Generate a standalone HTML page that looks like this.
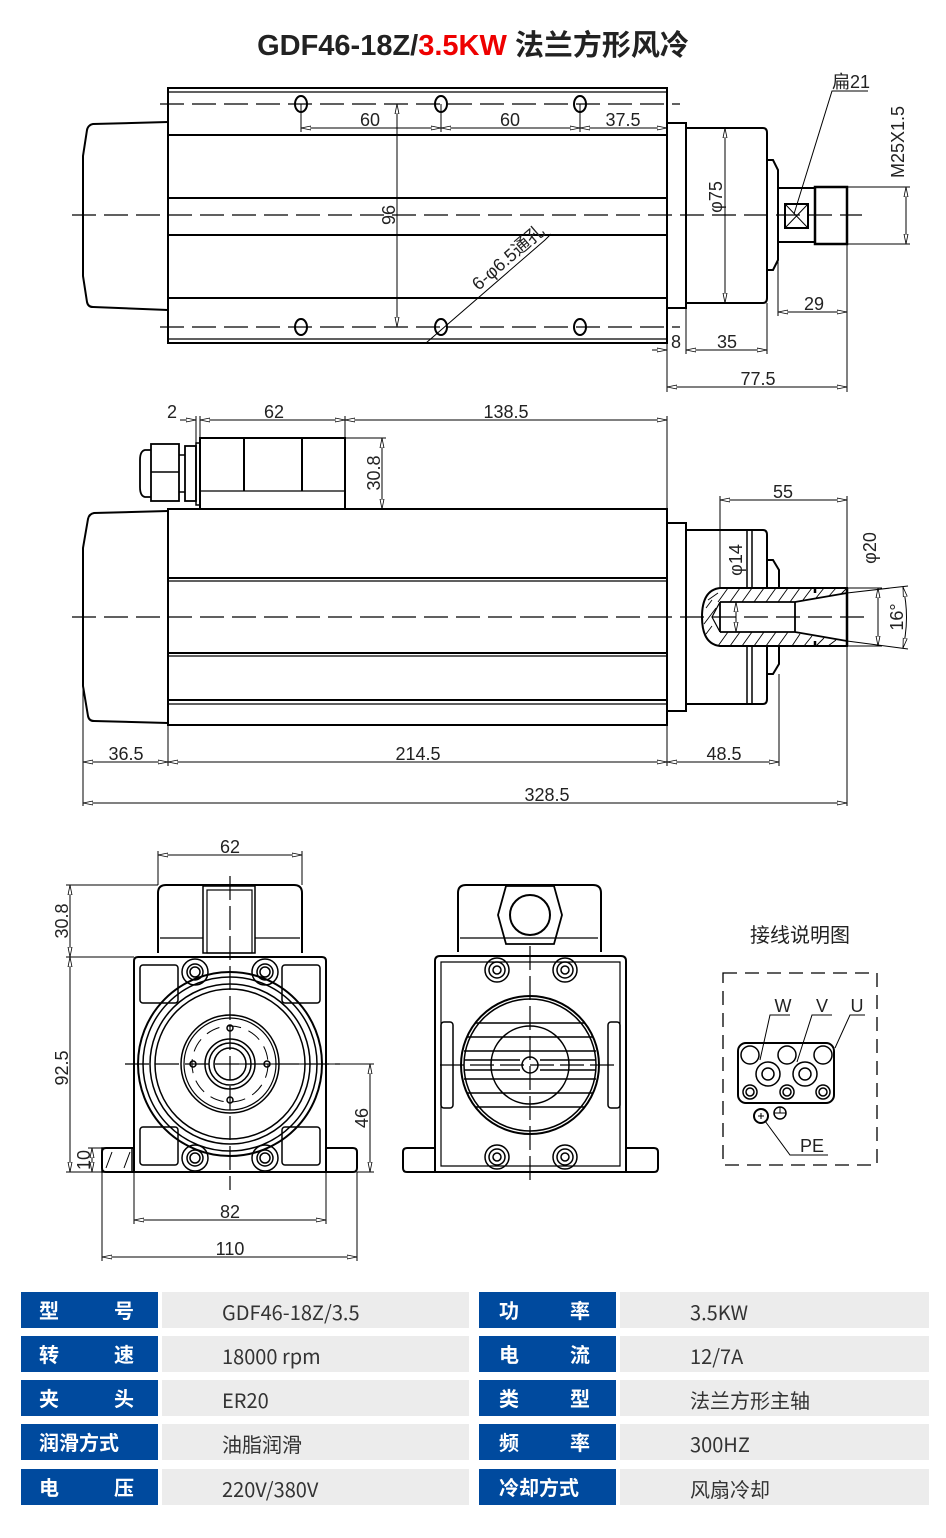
<!DOCTYPE html>
<html><head><meta charset="utf-8"><style>
body{margin:0;background:#fff;width:946px;height:1538px;overflow:hidden;position:relative;font-family:"Liberation Sans","Noto Sans CJK SC",sans-serif}
svg{position:absolute;left:0;top:0}
.t{position:absolute;left:0;top:22px;width:946px;text-align:center;font-weight:bold;font-size:29px;color:#222}
.c{position:absolute;height:36px;line-height:36px;font-size:20px;font-family:"Noto Sans CJK SC","Liberation Sans",sans-serif}
.b{background:#004a9e;color:#fff;font-weight:bold;width:137px}
.g{background:#ececec;color:#333;width:307px;line-height:40px}
</style></head><body>
<div class="t">GDF46-18Z/<span style="color:#e00">3.5KW</span> 法兰方形风冷</div>
<svg width="946" height="1280" viewBox="0 0 946 1280" font-family="Liberation Sans, Noto Sans CJK SC, sans-serif">
<defs>
<marker id="a" markerWidth="10" markerHeight="6" refX="10" refY="3" orient="auto-start-reverse" markerUnits="userSpaceOnUse"><path d="M0,1 L10,3 L0,5 Z" fill="#fff" stroke="#000" stroke-width="0.8"/></marker>
</defs>
<g fill="none" stroke="#000" stroke-width="2">
<rect x="168" y="88" width="499" height="255"/>
<line x1="168" y1="92" x2="667" y2="92" stroke-width="1.2"/>
<line x1="168" y1="339" x2="667" y2="339" stroke-width="1.2"/>
<line x1="168" y1="135" x2="667" y2="135"/><line x1="168" y1="198" x2="667" y2="198"/>
<line x1="168" y1="235" x2="667" y2="235"/><line x1="168" y1="298" x2="667" y2="298"/>
<path d="M168,122 L93,124 Q88,125 87,130 L83,156 L83,276 L87,302 Q88,307 93,307 L168,310"/>
<rect x="667" y="123" width="19" height="185"/>
<path d="M686,128 L763,128 Q767,128 767,133 L767,298 Q767,303 763,303 L686,303"/>
<path d="M767,160 L773,160 L778,170 L778,260 L773,270 L767,270"/>
<path d="M778,188 L815,188 M778,242 L815,242"/>
<rect x="815" y="187" width="32" height="57" stroke-width="2.5"/>
<rect x="785" y="204" width="23" height="24" stroke-width="2"/>
<path d="M785,204 L808,228 M808,204 L785,228" stroke-width="1"/>
<g stroke-width="2">
<ellipse cx="301" cy="104" rx="6" ry="8"/><ellipse cx="441" cy="104" rx="6" ry="8"/><ellipse cx="580" cy="104" rx="6" ry="8"/>
<ellipse cx="301" cy="327" rx="6" ry="8"/><ellipse cx="441" cy="327" rx="6" ry="8"/><ellipse cx="580" cy="327" rx="6" ry="8"/>
</g>
<g stroke-width="1.2" stroke-dasharray="24 8">
<line x1="160" y1="104" x2="680" y2="104"/><line x1="160" y1="327" x2="680" y2="327"/>
<line x1="72" y1="215" x2="862" y2="215"/>
</g>
<rect x="168" y="509" width="499" height="216"/>
<line x1="168" y1="578" x2="667" y2="578"/><line x1="168" y1="581" x2="667" y2="581" stroke-width="1.2"/>
<line x1="168" y1="653" x2="667" y2="653"/><line x1="168" y1="656" x2="667" y2="656" stroke-width="1.2"/>
<line x1="168" y1="700" x2="667" y2="700"/><line x1="168" y1="704" x2="667" y2="704" stroke-width="1.2"/>
<path d="M168,511 L94,513 Q89,514 88,519 L83,548 L83,686 L88,716 Q89,721 94,721 L168,723"/>
<rect x="200" y="438" width="145" height="71"/>
<line x1="244" y1="438" x2="244" y2="491"/><line x1="302" y1="438" x2="302" y2="491"/>
<line x1="200" y1="491" x2="345" y2="491" stroke-width="1.2"/>
<rect x="196" y="443" width="4" height="62" stroke-width="1.5"/>
<rect x="185" y="446" width="11" height="55" stroke-width="1.8"/>
<rect x="151" y="444" width="28" height="57" stroke-width="1.8"/>
<line x1="151" y1="472" x2="179" y2="472" stroke-width="1.5"/>
<path d="M151,450 L145,450 Q140,451 140,460 L140,487 Q140,496 145,497 L151,497" stroke-width="1.8"/>
<line x1="179" y1="455" x2="185" y2="455" stroke-width="1.5"/><line x1="179" y1="492" x2="185" y2="492" stroke-width="1.5"/>
<rect x="667" y="523" width="19" height="188"/>
<path d="M686,530 L763,530 Q767,530 767,535 L767,699 Q767,704 763,704 L686,704"/>
<line x1="747" y1="530" x2="747" y2="590" stroke-width="1.5"/><line x1="752" y1="530" x2="752" y2="590" stroke-width="1.5"/>
<line x1="747" y1="646" x2="747" y2="704" stroke-width="1.5"/><line x1="752" y1="646" x2="752" y2="704" stroke-width="1.5"/>
<path d="M767,560 L773,560 L779,570 L779,664 L773,674 L767,674"/>
<path d="M847,588 L720,588 Q702,590 702,617 Q702,644 720,646 L847,646 Z" fill="#fff"/>
<path d="M720,602 L795,602 L847,593 M720,632 L795,632 L847,641 M720,602 L720,632 M795,602 L795,632" stroke-width="1.8"/>
<path d="M720,602 L712,617 L720,632" stroke-width="1.2"/>
<path d="M815,588 L815,593 M815,641 L815,646 M847,588 L847,646" stroke-width="2.5"/>
<g stroke-width="0.9">
<path d="M728,588 L718,602 M740,588 L730,602 M752,588 L742,602 M764,588 L754,602 M776,588 L766,602 M788,588 L778,602 M800,588 L790,602 M812,588 L803,600 M824,588 L816,598 M836,588 L829,596 M846,589 L841,594"/>
<path d="M728,632 L718,646 M740,632 L730,646 M752,632 L742,646 M764,632 L754,646 M776,632 L766,646 M788,632 L778,646 M800,634 L792,646 M812,636 L804,646 M824,638 L816,646 M836,640 L828,646"/>
<path d="M712,600 L706,608 M716,608 L704,624 M712,626 L706,634 M718,593 L708,600"/>
</g>
<line x1="72" y1="617" x2="865" y2="617" stroke-width="1.2" stroke-dasharray="24 8"/>
<path d="M158,953 L158,893 Q158,885 166,885 L294,885 Q302,885 302,893 L302,953"/>
<rect x="203" y="886" width="52" height="67" stroke-width="1.5"/>
<rect x="207" y="890" width="45" height="63" stroke-width="1.2"/>
<line x1="160" y1="938" x2="203" y2="938" stroke-width="1.2"/><line x1="255" y1="938" x2="300" y2="938" stroke-width="1.2"/>
<path d="M134,1172 L134,961 Q134,957 138,957 L322,957 Q326,957 326,961 L326,1172"/>
<path d="M134,1148 L106,1148 Q102,1148 102,1152 L102,1168 Q102,1172 106,1172 L353,1172 Q357,1172 357,1168 L357,1152 Q357,1148 353,1148 L326,1148"/>
<rect x="140" y="965" width="38" height="38" rx="3" stroke-width="1.5"/><rect x="282" y="965" width="38" height="38" rx="3" stroke-width="1.5"/>
<rect x="140" y="1127" width="38" height="38" rx="3" stroke-width="1.5"/><rect x="282" y="1127" width="38" height="38" rx="3" stroke-width="1.5"/>
<circle cx="230" cy="1064" r="92"/><circle cx="230" cy="1064" r="87" stroke-width="1.5"/>
<circle cx="230" cy="1064" r="80" stroke-width="1.5"/><circle cx="230" cy="1064" r="75" stroke-width="1.5"/>
<circle cx="230" cy="1064" r="49" stroke-width="1.5"/><circle cx="230" cy="1064" r="46" stroke-width="1.2"/>
<circle cx="230" cy="1064" r="38" stroke-width="1" stroke-dasharray="14 8"/>
<circle cx="230" cy="1064" r="25" stroke-width="1.5"/><circle cx="230" cy="1064" r="21" stroke-width="1.5"/>
<circle cx="230" cy="1064" r="16" stroke-width="1.5"/>
<g stroke-width="1.5"><circle cx="230" cy="1028" r="3"/><circle cx="230" cy="1100" r="3"/><circle cx="193" cy="1064" r="3"/><circle cx="267" cy="1064" r="3"/></g>
<g stroke-width="1.5">
<circle cx="195" cy="972" r="13"/><circle cx="195" cy="972" r="8"/><circle cx="195" cy="972" r="5"/>
<circle cx="265" cy="972" r="13"/><circle cx="265" cy="972" r="8"/><circle cx="265" cy="972" r="5"/>
<circle cx="195" cy="1158" r="13"/><circle cx="195" cy="1158" r="8"/><circle cx="195" cy="1158" r="5"/>
<circle cx="265" cy="1158" r="13"/><circle cx="265" cy="1158" r="8"/><circle cx="265" cy="1158" r="5"/>
</g>
<rect x="102" y="1148" width="30" height="24" stroke-width="1.5"/>
<g stroke-width="1"><path d="M106,1168 L112,1152 M124,1168 L130,1152"/></g>
<g stroke-width="1.2" stroke-dasharray="24 6">
<line x1="230" y1="876" x2="230" y2="1190"/><line x1="125" y1="1064" x2="340" y2="1064"/>
</g>
<path d="M458,952 L458,893 Q458,885 466,885 L593,885 Q601,885 601,893 L601,952"/>
<line x1="460" y1="938" x2="598" y2="938" stroke-width="1.2"/>
<path d="M506,886 L554,886 L562,915 L554,944 L506,944 L498,915 Z" stroke-width="1.8"/>
<circle cx="530" cy="915" r="20"/>
<path d="M435,1172 L435,961 Q435,956 440,956 L621,956 Q626,956 626,961 L626,1172"/>
<path d="M441,962 L620,962 L620,1166 L441,1166 Z" stroke-width="1.2"/>
<path d="M435,1148 L407,1148 Q403,1148 403,1152 L403,1168 Q403,1172 407,1172 L654,1172 Q658,1172 658,1168 L658,1152 Q658,1148 654,1148 L626,1148"/>
<rect x="441" y="1022" width="12" height="86" rx="3" stroke-width="1.5"/><rect x="608" y="1022" width="12" height="86" rx="3" stroke-width="1.5"/>
<circle cx="530" cy="1065" r="69"/><circle cx="530" cy="1065" r="66" stroke-width="1.5"/>
<circle cx="530" cy="1065" r="39" stroke-width="1.5"/><circle cx="530" cy="1065" r="8" stroke-width="1.5"/>
<g stroke-width="1.5"><path d="M475,1023 L585,1023 M467,1037 L593,1037 M464,1051 L596,1051 M464,1079 L596,1079 M467,1093 L593,1093 M475,1107 L585,1107 M464,1060 L520,1060 M540,1060 L596,1060 M464,1070 L520,1070 M540,1070 L596,1070"/></g>
<g stroke-width="1.5">
<circle cx="497" cy="970" r="12"/><circle cx="497" cy="970" r="8"/><circle cx="497" cy="970" r="4"/>
<circle cx="565" cy="970" r="12"/><circle cx="565" cy="970" r="8"/><circle cx="565" cy="970" r="4"/>
<circle cx="497" cy="1157" r="12"/><circle cx="497" cy="1157" r="8"/><circle cx="497" cy="1157" r="4"/>
<circle cx="565" cy="1157" r="12"/><circle cx="565" cy="1157" r="8"/><circle cx="565" cy="1157" r="4"/>
</g>
<g stroke-width="1.2" stroke-dasharray="24 6">
<line x1="530" y1="946" x2="530" y2="1180"/><line x1="440" y1="1065" x2="620" y2="1065"/>
</g>
<rect x="723" y="973" width="154" height="192" stroke-width="1.3" stroke-dasharray="14 8"/>
<rect x="738" y="1043" width="96" height="60" rx="8" stroke-width="2"/>
<g stroke-width="1.5">
<circle cx="750" cy="1055" r="9"/><circle cx="787" cy="1055" r="9"/><circle cx="823" cy="1055" r="9"/>
<circle cx="768" cy="1074" r="12"/><circle cx="768" cy="1074" r="6"/>
<circle cx="805" cy="1074" r="12"/><circle cx="805" cy="1074" r="6"/>
<circle cx="750" cy="1092" r="7"/><circle cx="750" cy="1092" r="4"/>
<circle cx="787" cy="1092" r="7"/><circle cx="787" cy="1092" r="4"/>
<circle cx="823" cy="1092" r="7"/><circle cx="823" cy="1092" r="4"/>
<circle cx="761" cy="1116" r="7" stroke-width="2"/><circle cx="780" cy="1113" r="6"/>
</g>
<g stroke-width="1">
<path d="M760,1060 L770,1015 L790,1015 M797,1062 L812,1015 L832,1015 M835,1048 L850,1015 L865,1015 M765,1121 L790,1155 L828,1155"/>
<path d="M758,1116 L764,1116 M761,1113 L761,1119 M774,1113 L786,1113 M780,1113 L780,1107"/>
</g>
</g>
<g fill="none" stroke="#000" stroke-width="1">
<path d="M301,104 L301,132 M441,104 L441,132 M580,104 L580,132"/>
<line x1="301" y1="128" x2="441" y2="128" marker-start="url(#a)" marker-end="url(#a)"/>
<line x1="441" y1="128" x2="580" y2="128" marker-start="url(#a)" marker-end="url(#a)"/>
<line x1="580" y1="128" x2="667" y2="128" marker-start="url(#a)" marker-end="url(#a)"/>
<line x1="397" y1="104" x2="397" y2="327" marker-start="url(#a)" marker-end="url(#a)"/>
<line x1="725" y1="128" x2="725" y2="303" marker-start="url(#a)" marker-end="url(#a)"/>
<path d="M426,343 L545,240 L551,234"/>
<path d="M794,214 L832,91 L868,91"/>
<path d="M847,187 L910,187 M847,244 L910,244"/>
<line x1="906" y1="187" x2="906" y2="244" marker-start="url(#a)" marker-end="url(#a)"/>
<path d="M778,244 L778,316 M847,244 L847,392 M667,343 L667,392 M686,308 L686,354 M767,303 L767,354"/>
<line x1="778" y1="312" x2="847" y2="312" marker-start="url(#a)" marker-end="url(#a)"/>
<line x1="652" y1="350" x2="667" y2="350" marker-end="url(#a)"/>
<line x1="686" y1="350" x2="767" y2="350" marker-start="url(#a)" marker-end="url(#a)"/>
<line x1="667" y1="387" x2="847" y2="387" marker-start="url(#a)" marker-end="url(#a)"/>
<path d="M196,443 L196,416 M200,438 L200,416 M345,438 L345,416 M667,509 L667,416"/>
<line x1="180" y1="420" x2="196" y2="420" marker-end="url(#a)"/>
<line x1="200" y1="420" x2="345" y2="420" marker-start="url(#a)" marker-end="url(#a)"/>
<line x1="345" y1="420" x2="667" y2="420" marker-start="url(#a)" marker-end="url(#a)"/>
<path d="M345,438 L386,438"/>
<line x1="382" y1="438" x2="382" y2="509" marker-start="url(#a)" marker-end="url(#a)"/>
<path d="M83,686 L83,806 M168,725 L168,766 M667,725 L667,766 M779,674 L779,766 M847,646 L847,806 M720,588 L720,496 M847,588 L847,496"/>
<line x1="720" y1="500" x2="847" y2="500" marker-start="url(#a)" marker-end="url(#a)"/>
<line x1="83" y1="762" x2="168" y2="762" marker-start="url(#a)" marker-end="url(#a)"/>
<line x1="168" y1="762" x2="667" y2="762" marker-start="url(#a)" marker-end="url(#a)"/>
<line x1="667" y1="762" x2="779" y2="762" marker-start="url(#a)" marker-end="url(#a)"/>
<line x1="83" y1="803" x2="847" y2="803" marker-start="url(#a)" marker-end="url(#a)"/>
<line x1="736" y1="602" x2="736" y2="632" marker-start="url(#a)" marker-end="url(#a)"/>
<path d="M847,588 L882,588 M847,646 L882,646"/>
<line x1="878" y1="588" x2="878" y2="646" marker-start="url(#a)" marker-end="url(#a)"/>
<path d="M847,593 L908,586 M847,641 L908,649"/>
<path d="M903,587 Q910,617 903,648" marker-start="url(#a)" marker-end="url(#a)"/>
<path d="M158,885 L158,851 M302,885 L302,851 M158,885 L66,885 M134,957 L66,957 M102,1172 L66,1172 M102,1148 L88,1148 M230,1064 L374,1064 M357,1172 L374,1172 M134,1172 L134,1224 M326,1172 L326,1224 M102,1172 L102,1261 M357,1172 L357,1261"/>
<line x1="158" y1="855" x2="302" y2="855" marker-start="url(#a)" marker-end="url(#a)"/>
<line x1="70" y1="885" x2="70" y2="957" marker-start="url(#a)" marker-end="url(#a)"/>
<line x1="70" y1="957" x2="70" y2="1172" marker-start="url(#a)" marker-end="url(#a)"/>
<line x1="92" y1="1148" x2="92" y2="1172" marker-start="url(#a)" marker-end="url(#a)"/>
<line x1="370" y1="1064" x2="370" y2="1172" marker-start="url(#a)" marker-end="url(#a)"/>
<line x1="134" y1="1220" x2="326" y2="1220" marker-start="url(#a)" marker-end="url(#a)"/>
<line x1="102" y1="1257" x2="357" y2="1257" marker-start="url(#a)" marker-end="url(#a)"/>
</g>
<g font-size="18" fill="#222" text-anchor="middle" font-family="Liberation Sans Narrow, Liberation Sans, sans-serif">
<text x="370" y="126">60</text><text x="510" y="126">60</text><text x="623" y="126">37.5</text>
<text transform="translate(395,215) rotate(-90)">96</text>
<text transform="translate(722,197) rotate(-90)">φ75</text>
<text transform="translate(904,142) rotate(-90)">M25X1.5</text>
<text x="851" y="88">扁21</text>
<text transform="translate(512,262) rotate(-41)">6-φ6.5通孔</text>
<text x="814" y="310">29</text><text x="676" y="348">8</text><text x="727" y="348">35</text><text x="758" y="385">77.5</text>
<text x="172" y="418">2</text><text x="274" y="418">62</text><text x="506" y="418">138.5</text>
<text transform="translate(380,473) rotate(-90)">30.8</text>
<text x="783" y="498">55</text>
<text transform="translate(742,560) rotate(-90)">φ14</text>
<text transform="translate(876,548) rotate(-90)">φ20</text>
<text transform="translate(903,617) rotate(-90)">16°</text>
<text x="126" y="760">36.5</text><text x="418" y="760">214.5</text><text x="724" y="760">48.5</text><text x="547" y="801">328.5</text>
<text x="230" y="853">62</text>
<text transform="translate(68,921) rotate(-90)">30.8</text>
<text transform="translate(68,1068) rotate(-90)">92.5</text>
<text transform="translate(90,1160) rotate(-90)">10</text>
<text transform="translate(368,1118) rotate(-90)">46</text>
<text x="230" y="1218">82</text><text x="230" y="1255">110</text>
<text x="783" y="1012">W</text><text x="822" y="1012">V</text><text x="857" y="1012">U</text>
<text x="812" y="1152">PE</text>
<text x="800" y="942" font-size="20">接线说明图</text>
</g>
</svg>
<div class="c b" style="left:21px;top:1292px"><span style="position:absolute;left:18px">型</span><span style="position:absolute;right:24px">号</span></div>
<div class="c g" style="left:162px;top:1292px;padding-left:60px;box-sizing:border-box">GDF46-18Z/3.5</div>
<div class="c b" style="left:479px;top:1292px"><span style="position:absolute;left:20px">功</span><span style="position:absolute;right:26px">率</span></div>
<div class="c g" style="left:620px;top:1292px;width:309px;padding-left:70px;box-sizing:border-box">3.5KW</div>
<div class="c b" style="left:21px;top:1336px"><span style="position:absolute;left:18px">转</span><span style="position:absolute;right:24px">速</span></div>
<div class="c g" style="left:162px;top:1336px;padding-left:60px;box-sizing:border-box">18000 rpm</div>
<div class="c b" style="left:479px;top:1336px"><span style="position:absolute;left:20px">电</span><span style="position:absolute;right:26px">流</span></div>
<div class="c g" style="left:620px;top:1336px;width:309px;padding-left:70px;box-sizing:border-box">12/7A</div>
<div class="c b" style="left:21px;top:1380px"><span style="position:absolute;left:18px">夹</span><span style="position:absolute;right:24px">头</span></div>
<div class="c g" style="left:162px;top:1380px;padding-left:60px;box-sizing:border-box">ER20</div>
<div class="c b" style="left:479px;top:1380px"><span style="position:absolute;left:20px">类</span><span style="position:absolute;right:26px">型</span></div>
<div class="c g" style="left:620px;top:1380px;width:309px;padding-left:70px;box-sizing:border-box">法兰方形主轴</div>
<div class="c b" style="left:21px;top:1424px;padding-left:18px;box-sizing:border-box">润滑方式</div>
<div class="c g" style="left:162px;top:1424px;padding-left:60px;box-sizing:border-box">油脂润滑</div>
<div class="c b" style="left:479px;top:1424px"><span style="position:absolute;left:20px">频</span><span style="position:absolute;right:26px">率</span></div>
<div class="c g" style="left:620px;top:1424px;width:309px;padding-left:70px;box-sizing:border-box">300HZ</div>
<div class="c b" style="left:21px;top:1469px"><span style="position:absolute;left:18px">电</span><span style="position:absolute;right:24px">压</span></div>
<div class="c g" style="left:162px;top:1469px;padding-left:60px;box-sizing:border-box">220V/380V</div>
<div class="c b" style="left:479px;top:1469px;padding-left:20px;box-sizing:border-box">冷却方式</div>
<div class="c g" style="left:620px;top:1469px;width:309px;padding-left:70px;box-sizing:border-box">风扇冷却</div>
</body></html>
